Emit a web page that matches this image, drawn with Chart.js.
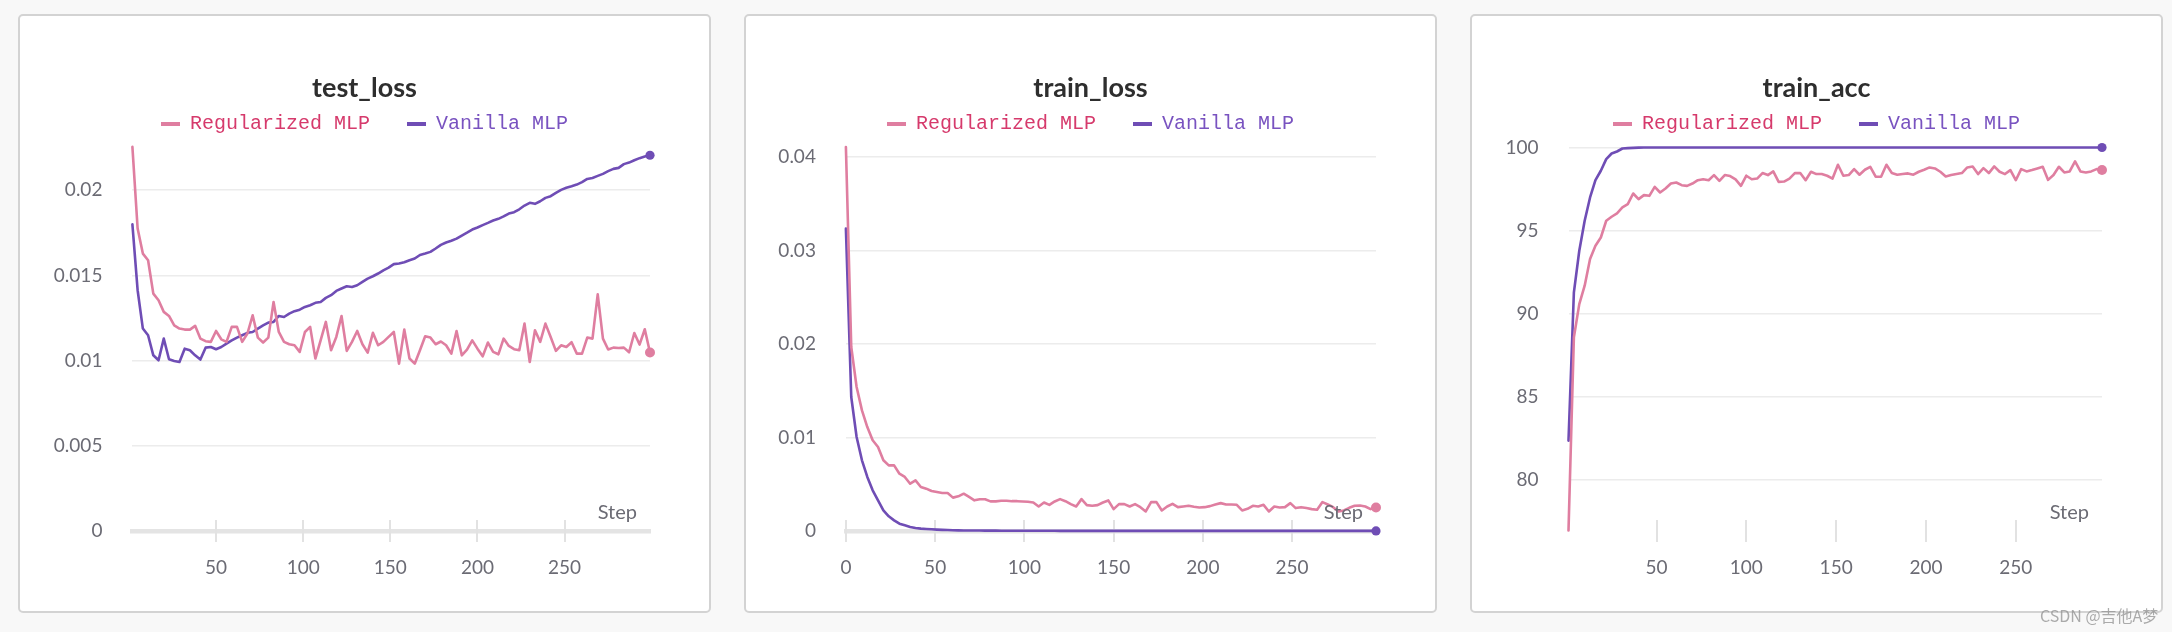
<!DOCTYPE html>
<html>
<head>
<meta charset="utf-8">
<script src="https://cdn.jsdelivr.net/npm/chart.js@4.4.1/dist/chart.umd.min.js"></script>
<style>
  html, body { margin: 0; padding: 0; background: #f8f8f8; }
  body { width: 2172px; height: 632px; position: relative; overflow: hidden; }
  .panel { position: absolute; top: 14px; width: 693px; height: 599px; box-sizing: border-box;
           background: #fff; border: 2px solid #d3d3d3; border-radius: 5px; }
  canvas { position: absolute; top: 14px; }
  .wm { position: absolute; left: 2040px; top: 603px; font-family: "Noto Sans CJK SC", sans-serif;
        font-size: 16px; color: rgba(150,150,150,0.8); white-space: nowrap; }
</style>
</head>
<body>
<div class="panel" style="left:18px"></div>
<div class="panel" style="left:744px"></div>
<div class="panel" style="left:1470px"></div>
<canvas id="c1" width="693" height="599" style="left:18px"></canvas>
<canvas id="c2" width="693" height="599" style="left:744px"></canvas>
<canvas id="c3" width="693" height="599" style="left:1470px"></canvas>
<div class="wm">CSDN @吉他A梦</div>
<script>
// ---------------- data ----------------
const seriesNames = ["Regularized MLP", "Vanilla MLP"];
const titles = ["test_loss", "train_loss", "train_acc"];
const xTickValues = [0, 50, 100, 150, 200, 250];
const yTicksTestLoss = [0, 0.005, 0.01, 0.015, 0.02];
const yTicksTrainLoss = [0, 0.01, 0.02, 0.03, 0.04];
const yTicksTrainAcc = [80, 85, 90, 95, 100];

// logged step numbers: first step and stride of each metric
const firstStep = { test_loss: 2, train_loss: 0, train_acc: 1 };
const stepStride = 3;
const pointCount = 100;

const testLossReg = [
0.02254,0.01775,0.01628,0.01589,0.01393,0.01354,0.01286,0.01262,0.01207,0.01188,
0.01182,0.01182,0.01204,0.01129,0.01114,0.01110,0.01174,0.01125,0.01110,0.01198,
0.01198,0.01110,0.01159,0.01266,0.01135,0.01106,0.01135,0.01344,0.01168,0.01110,
0.01096,0.01090,0.01051,0.01168,0.01198,0.01012,0.01119,0.01227,0.01061,0.01139,
0.01262,0.01057,0.01110,0.01174,0.01096,0.01047,0.01163,0.01090,0.01110,0.01139,
0.01168,0.00982,0.01182,0.01012,0.00982,0.01061,0.01143,0.01135,0.01096,0.01112,
0.01090,0.01041,0.01174,0.01031,0.01065,0.01119,0.01070,0.01025,0.01106,0.01051,
0.01037,0.01129,0.01086,0.01067,0.01061,0.01217,0.00992,0.01178,0.01110,0.01217,
0.01139,0.01057,0.01090,0.01080,0.01108,0.01041,0.01041,0.01135,0.01129,0.01389,
0.01129,0.01065,0.01076,0.01074,0.01076,0.01049,0.01162,0.01094,0.01184,0.01047];

const testLossVan = [
0.01800,0.01413,0.01188,0.01149,0.01031,0.01002,0.01129,0.01008,0.00998,0.00992,
0.01070,0.01061,0.01031,0.01006,0.01076,0.01080,0.01067,0.01080,0.01100,0.01119,
0.01135,0.01149,0.01163,0.01168,0.01188,0.01207,0.01223,0.01227,0.01262,0.01256,
0.01276,0.01290,0.01299,0.01315,0.01325,0.01339,0.01344,0.01368,0.01384,0.01409,
0.01423,0.01436,0.01432,0.01442,0.01462,0.01481,0.01495,0.01511,0.01530,0.01546,
0.01566,0.01570,0.01577,0.01589,0.01599,0.01620,0.01628,0.01638,0.01658,0.01679,
0.01693,0.01703,0.01716,0.01734,0.01751,0.01769,0.01781,0.01795,0.01808,0.01822,
0.01832,0.01846,0.01863,0.01871,0.01888,0.01910,0.01926,0.01920,0.01935,0.01955,
0.01965,0.01984,0.02002,0.02014,0.02023,0.02033,0.02047,0.02066,0.02072,0.02084,
0.02096,0.02112,0.02125,0.02131,0.02153,0.02162,0.02176,0.02188,0.02198,0.02205];

const trainLossReg = [
0.04107,0.01968,0.01540,0.01290,0.01112,0.00970,0.00898,0.00756,0.00702,0.00702,
0.00613,0.00578,0.00506,0.00542,0.00471,0.00453,0.00428,0.00417,0.00406,0.00406,
0.00357,0.00371,0.00399,0.00364,0.00328,0.00339,0.00339,0.00317,0.00317,0.00323,
0.00323,0.00319,0.00319,0.00316,0.00312,0.00305,0.00262,0.00305,0.00280,0.00316,
0.00341,0.00319,0.00287,0.00262,0.00341,0.00277,0.00270,0.00277,0.00305,0.00327,
0.00234,0.00287,0.00287,0.00262,0.00287,0.00255,0.00209,0.00309,0.00309,0.00220,
0.00262,0.00291,0.00255,0.00262,0.00270,0.00259,0.00252,0.00255,0.00266,0.00284,
0.00298,0.00284,0.00284,0.00280,0.00220,0.00237,0.00270,0.00262,0.00280,0.00209,
0.00262,0.00252,0.00255,0.00298,0.00245,0.00255,0.00245,0.00234,0.00227,0.00309,
0.00284,0.00255,0.00209,0.00220,0.00248,0.00270,0.00273,0.00262,0.00234,0.00252];

const trainLossVan = [
0.03234,0.01433,0.01005,0.00756,0.00578,0.00435,0.00328,0.00221,0.00157,0.00114,
0.00078,0.00061,0.00043,0.00032,0.00025,0.00021,0.00018,0.00015,0.00012,0.00010,
0.00008,0.00007,0.00006,0.00006,0.00005,0.00005,0.00004,0.00004,0.00004,0.00003,
0.00003,0.00003,0.00003,0.00002,0.00002,0.00002,0.00002,0.00002,0.00002,0.00002,
0.00001,0.00001,0.00001,0.00001,0.00001,0.00001,0.00001,0.00001,0.00001,0.00001,
0.00001,0.00001,0.00001,0.00001,0.00001,0.00001,0.00001,0.00001,0.00001,0.00001,
0.00001,0.00001,0.00001,0.00001,0.00001,0.00001,0.00001,0.00001,0.00001,0.00001,
0.00001,0.00001,0.00001,0.00001,0.00001,0.00001,0.00001,0.00001,0.00001,0.00001,
0.00001,0.00001,0.00001,0.00001,0.00001,0.00001,0.00001,0.00001,0.00001,0.00001,
0.00001,0.00001,0.00001,0.00001,0.00001,0.00001,0.00001,0.00001,0.00001,0.00001];

const trainAccReg = [
76.94,88.57,90.57,91.68,93.28,94.08,94.58,95.59,95.83,96.03,
96.39,96.59,97.23,96.89,97.13,97.09,97.63,97.29,97.53,97.83,
97.89,97.73,97.69,97.83,98.03,98.09,98.03,98.34,97.99,98.34,
98.28,98.08,97.69,98.30,98.09,98.13,98.46,98.34,98.56,97.93,
97.95,98.13,98.46,98.46,98.03,98.54,98.40,98.40,98.30,98.13,
98.96,98.30,98.34,98.70,98.36,98.66,98.84,98.24,98.24,98.96,
98.46,98.36,98.40,98.44,98.36,98.54,98.66,98.80,98.74,98.54,
98.26,98.34,98.40,98.46,98.80,98.86,98.40,98.76,98.46,98.86,
98.54,98.40,98.64,98.03,98.70,98.56,98.64,98.74,98.84,98.05,
98.34,98.84,98.50,98.56,99.16,98.56,98.50,98.56,98.70,98.64];

const trainAccVan = [
82.35,91.28,93.78,95.59,96.99,98.03,98.60,99.30,99.64,99.76,
99.94,99.96,99.98,99.99,100,100,100,100,100,100,
100,100,100,100,100,100,100,100,100,100,
100,100,100,100,100,100,100,100,100,100,
100,100,100,100,100,100,100,100,100,100,
100,100,100,100,100,100,100,100,100,100,
100,100,100,100,100,100,100,100,100,100,
100,100,100,100,100,100,100,100,100,100,
100,100,100,100,100,100,100,100,100,100,
100,100,100,100,100,100,100,100,100,100];

// ---------------- styling ----------------
const lineColors = ["#df7ea0", "#6f4db5"];
const legendTextColors = ["#d63a6c", "#7953c0"];
const tickColor = "#6b6b74";
const tickFont = { family: "Lato", size: 19 };

function stepsFor(metric) {
  const out = [];
  for (let i = 0; i < pointCount; i++) out.push(firstStep[metric] + i * stepStride);
  return out;
}

const axisDeco = {
  id: "axisDeco",
  beforeDatasetsDraw(chart) {
    const { ctx, chartArea, scales: { x } } = chart;
    ctx.save();
    ctx.strokeStyle = "#e2e2e2";
    ctx.lineWidth = 2;
    x.ticks.forEach(t => {
      const px = Math.round(x.getPixelForValue(t.value));
      ctx.beginPath();
      ctx.moveTo(px, chartArea.bottom - 11);
      ctx.lineTo(px, chartArea.bottom + 11);
      ctx.stroke();
    });
    ctx.restore();
  },
  afterDatasetsDraw(chart) {
    const { ctx, chartArea } = chart;
    ctx.save();
    ctx.font = "20px Lato";
    ctx.fillStyle = tickColor;
    ctx.textAlign = "right";
    ctx.textBaseline = "middle";
    ctx.fillText("Step", chartArea.right - 13, chartArea.bottom - 18);
    ctx.restore();
  }
};

function makeChart(id, cfg) {
  const steps = stepsFor(cfg.metric);
  const mk = (vals, i) => ({
    label: seriesNames[i],
    data: vals.map((v, k) => ({ x: steps[k], y: v })),
    borderColor: lineColors[i],
    backgroundColor: lineColors[i],
    borderWidth: 2.6,
    tension: 0,
    fill: false,
    clip: false,
    borderJoinStyle: "round",
    borderCapStyle: "round",
    pointRadius: c => (c.dataIndex === vals.length - 1 ? (i === 0 ? 5 : 4.6) : 0),
    pointHoverRadius: 0,
    pointBorderWidth: 0,
    pointBackgroundColor: lineColors[i]
  });
  return new Chart(document.getElementById(id), {
    type: "line",
    data: { datasets: [mk(cfg.reg, 0), mk(cfg.van, 1)] },
    options: {
      responsive: false,
      animation: false,
      events: [],
      layout: { padding: { left: 0, right: 0, top: 0, bottom: 0 } },
      plugins: {
        tooltip: { enabled: false },
        title: {
          display: true,
          text: cfg.title,
          color: "#2e2e2e",
          font: { family: "Lato", size: 27, weight: "bold", lineHeight: 1.2 },
          padding: { top: 58.5, bottom: -27.9 }
        },
        legend: {
          display: true,
          position: "top",
          align: "center",
          labels: {
            boxWidth: 19,
            boxHeight: 4,
            padding: 37,
            font: { family: "Liberation Mono", size: 20 },
            generateLabels: chart => chart.data.datasets.map((ds, i) => ({
              text: ds.label,
              fillStyle: ds.borderColor,
              strokeStyle: ds.borderColor,
              lineWidth: 0,
              fontColor: legendTextColors[i],
              hidden: false,
              datasetIndex: i
            }))
          }
        }
      },
      scales: {
        x: {
          type: "linear",
          min: cfg.xMin,
          max: cfg.xMax,
          afterBuildTicks: s => { s.ticks = xTickValues.filter(v => v >= cfg.xMin && v <= cfg.xMax).map(v => ({ value: v })); },
          afterFit: s => { s.height = 82; },
          ticks: { padding: 25.8, color: tickColor, font: tickFont, maxRotation: 0, autoSkip: false },
          grid: { display: false, drawTicks: false },
          border: { display: cfg.zeroLine, color: "#e4e4e4", width: 4.4 }
        },
        y: {
          type: "linear",
          position: "left",
          min: cfg.yMin,
          max: cfg.yMax,
          afterBuildTicks: s => { s.ticks = cfg.yTicks.map(v => ({ value: v })); },
          afterFit: s => { s.width = cfg.chartLeft; },
          ticks: {
            padding: 30,
            color: tickColor,
            font: tickFont,
            autoSkip: false,
            callback: v => String(parseFloat(Number(v).toFixed(6)))
          },
          grid: { color: "#ececec", lineWidth: 1.5, drawTicks: false },
          border: { display: false }
        },
        // empty spacer on the right so the plot ends where the reference's does
        spacer: {
          type: "linear",
          position: "right",
          display: true,
          afterFit: s => { s.width = 61; },
          ticks: { display: false },
          grid: { display: false, drawTicks: false },
          border: { display: false }
        }
      }
    },
    plugins: [axisDeco]
  });
}

makeChart("c1", { metric: "test_loss", title: titles[0], reg: testLossReg, van: testLossVan, yTicks: yTicksTestLoss,
  xMin: 2, xMax: 299, yMin: 0, yMax: 0.022711, chartLeft: 114.4, zeroLine: true });
makeChart("c2", { metric: "train_loss", title: titles[1], reg: trainLossReg, van: trainLossVan, yTicks: yTicksTrainLoss,
  xMin: 0, xMax: 297, yMin: 0, yMax: 0.04139, chartLeft: 101.9, zeroLine: true });
makeChart("c3", { metric: "train_acc", title: titles[2], reg: trainAccReg, van: trainAccVan, yTicks: yTicksTrainAcc,
  xMin: 1, xMax: 298, yMin: 76.905, yMax: 100.211, chartLeft: 98.5, zeroLine: false });
</script>
</body>
</html>
